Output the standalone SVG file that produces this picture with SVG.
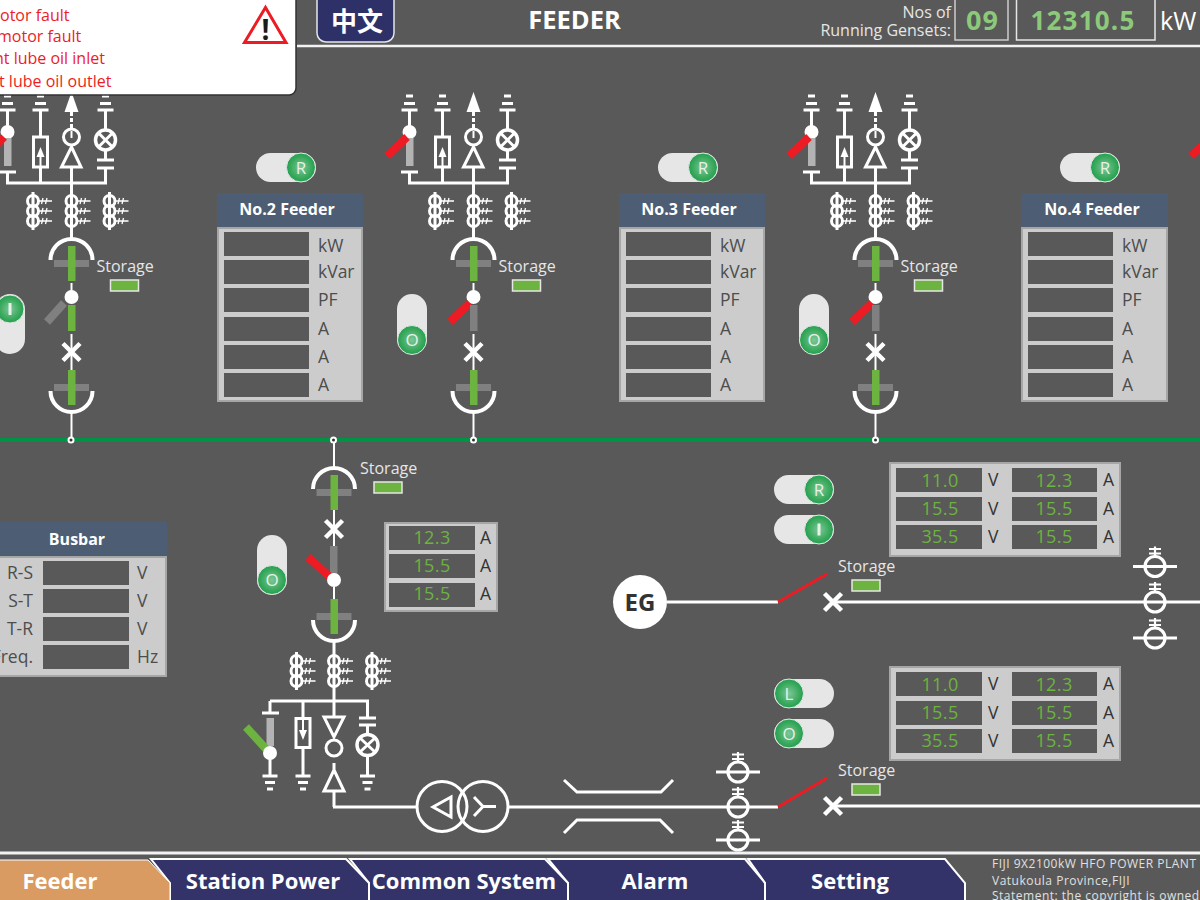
<svg xmlns="http://www.w3.org/2000/svg" width="1200" height="900" viewBox="0 0 1200 900">
<style>
text{font-family:"Open Sans","Noto Sans","Liberation Sans",sans-serif}
.w{fill:none;stroke:#fff;stroke-width:3}
.w2{fill:none;stroke:#fff;stroke-width:2}
.line{fill:none;stroke:#fff;stroke-width:3}
.thin{fill:none;stroke:#fff;stroke-width:1.300}
.tick{fill:none;stroke:#fff;stroke-width:2.200}
.x{fill:none;stroke:#fff;stroke-width:4.500}
.ball{fill:#fff}
.gr{fill:#6DB33F}
.gy{fill:#808080}
.lgy{fill:#B3B3B3}
.red{stroke:#ED1C24;stroke-width:8;fill:none}
.grl{stroke:#6DB33F;stroke-width:8;fill:none}
.gyl{stroke:#808080;stroke-width:8;fill:none}
.rl{stroke:#ED1C24;stroke-width:3;fill:none}
.st{fill:#E6E6E6;font-size:16px}
.ind{fill:#6DB33F;stroke:#E6E6E6;stroke-width:1.500}
.tgl{fill:#E6E6E6}
.knob{fill:url(#kg);stroke:#E6E6E6;stroke-width:1}
.kt{fill:#E6F2E6;font-size:17px;text-anchor:middle}
.pb{fill:#CCCCCC;stroke:#A6A6A6;stroke-width:2}
.ph{fill:#4D5D73}
.pr{fill:#595959}
.pt{fill:#fff;font-size:16px;font-weight:700;text-anchor:middle}
.u{fill:#4D4D4D;font-size:17.500px}
.u2{fill:#333;font-size:17.500px}
.v{fill:#6DB33F;font-size:18px;text-anchor:middle;letter-spacing:.4px}
.tab{fill:#33336A;stroke:#fff;stroke-width:2}
.tt{fill:#fff;font-size:22px;font-weight:700;text-anchor:middle}
.al{fill:#ED1C24;font-size:16px}
.ft{fill:#E0E0E0;font-size:12px;letter-spacing:.5px}
</style>
<defs>
<radialGradient id="kg"><stop offset="0" stop-color="#7CC79A"/><stop offset=".7" stop-color="#3CAA5E"/><stop offset="1" stop-color="#22A04F"/></radialGradient>
<g id="gnd"><path class="line" d="M-8 0H8M-5.500 -6.500H5.500M-3.500 -14H3.500"/></g>
<g id="gndb"><path class="line" d="M-7.500 0H7.500M-5 6.500H5M-3 13H3"/></g>
<g id="ct"><circle class="w" cx="0" cy="-10" r="5.500"/><circle class="w" cx="0" cy="0" r="5.500"/><circle class="w" cx="0" cy="10" r="5.500"/><path class="thin" d="M5 -10H19M5 0H19M5 10H19M10 -13L8.500 -7M14 -13L12.500 -7M10 -3L8.500 3M14 -3L12.500 3M10 7L8.500 13M14 7L12.500 13"/></g>
<g id="x"><path class="x" d="M-8.500 -8.500L8.500 8.500M-8.500 8.500L8.500 -8.500"/></g>
<g id="ar"><circle cx="0" cy="0" r="10" fill="none" stroke="#fff" stroke-width="3.200"/><path class="tick" d="M0 -20V-10M-6 -17.500H6M-6 -13H6"/></g>
<g id="arl"><use href="#ar"/><path class="line" d="M-22 0H22"/></g>
<g id="ctop"><path class="w" style="stroke-width:4" d="M-21 21A21 21 0 0 1 21 21"/><rect class="gy" x="-17.500" y="21" width="35" height="7"/><rect class="gr" x="-3.500" y="7" width="7.500" height="35"/></g>
<g id="cbot"><rect class="gy" x="-17.500" y="-7" width="35" height="7"/><rect class="gr" x="-3.500" y="-21" width="7.500" height="35"/><path class="w" style="stroke-width:4" d="M-21 0A21 21 0 0 0 21 0"/></g>
<g id="stor"><text class="st" x="25.500" y="272">Storage</text><rect class="ind" x="39.500" y="280" width="28" height="11"/></g>
<g id="upper">
<use href="#gnd" x="-63.500" y="110"/><use href="#gnd" x="-30.500" y="110"/><use href="#gnd" x="34.500" y="110"/>
<path class="line" d="M-63.500 110V130M-72 172H-55M-63.500 172V183H34.500V168M-30.500 110V137M-30.500 167V183"/>
<circle class="ball" cx="-63.500" cy="132" r="7"/>
<rect class="lgy" x="-67" y="138" width="7.500" height="28"/>
<rect class="w" x="-37.500" y="137" width="14" height="30"/>
<path class="w2" d="M-30.500 155V167"/><path fill="#fff" d="M-30.500 147L-26.500 157H-34.500Z"/>
<path fill="#fff" d="M0.500 92L7.500 112H-6.500Z"/>
<path fill="none" stroke="#fff" stroke-width="3" stroke-dasharray="4 2" d="M0.500 112V129"/>
<circle class="w" cx="0.500" cy="137" r="8"/><path class="w2" d="M0.500 131V138"/>
<path class="w" d="M0.500 147L10 167H-9.500Z"/>
<path class="line" d="M0.500 167V239"/>
<path class="line" d="M34.500 110V129"/><circle class="w" style="stroke-width:3.500" cx="34.500" cy="140" r="10"/><path class="w" d="M27.500 133L41.500 147M41.500 133L27.500 147M34.500 150V160M26 160H43M26 168H43"/>
<use href="#ct" x="-38" y="211"/><use href="#ct" x="0.500" y="211"/><use href="#ct" x="38.500" y="211"/>
<path class="line" d="M-38 192V230M38.500 192V230"/>
<use href="#ctop" x="0.500" y="239"/>
<path class="w2" d="M0.500 283V297"/><circle class="ball" cx="0.500" cy="297" r="7"/>
<path class="w2" d="M0.500 334V371"/>
<use href="#x" x="0.500" y="352"/>
<use href="#cbot" x="0.500" y="391"/>
<path class="w2" d="M0.500 412V437"/>
<use href="#stor"/>
</g>
</defs>
<rect width="1200" height="900" fill="#595959"/>
<g id="connectors">
<path stroke="#009245" stroke-width="4" fill="none" d="M0 440H1200"/>
<path class="line" d="M667 602H778M833 602H1200M333 807H417M508 807H778M833 806H1200M334 791V807"/>
<path class="rl" d="M778 602L827 574M778 807L827 778"/>
<path class="w" d="M564 780L577 792H661L673 780M564 833L577 820H660L673 833"/>
<path class="w2" d="M334 443V467"/>
</g>
<g id="header">
<path stroke="#F2F2F2" stroke-width="2.500" d="M297 46H1200"/>
<text x="574.500" y="29" fill="#fff" font-size="25.500" font-weight="700" text-anchor="middle">FEEDER</text>
<text x="951" y="18" fill="#E6E6E6" font-size="16" text-anchor="end">Nos of</text>
<text x="951" y="36" fill="#E6E6E6" font-size="16" text-anchor="end">Running Gensets:</text>
<rect x="955" y="-2" width="53" height="42" fill="#595959" stroke="#CCC" stroke-width="1.500"/>
<text x="982.500" y="30" fill="#8CC97A" font-size="27" font-weight="700" text-anchor="middle" letter-spacing="1">09</text>
<rect x="1016.500" y="-2" width="138.500" height="42" fill="#595959" stroke="#E6E6E6" stroke-width="1.500"/>
<text x="1083" y="30" fill="#8CC97A" font-size="26" font-weight="700" text-anchor="middle" letter-spacing="1.200">12310.5</text>
<text x="1160" y="30" fill="#fff" font-size="25">kW</text>
</g>
<g id="cubicle-1"><use href="#upper" x="71"/><path class="red" d="M4 137L-14 156"/><path class="gyl" d="M64 303L47 322"/><rect class="gr" x="68" y="305" width="7.500" height="26"/></g>
<g id="cubicle-2"><use href="#upper" x="473"/><path class="red" d="M407 137L387 156"/><path class="red" d="M470 303L450 322"/><rect class="gy" x="470" y="305" width="7.500" height="26"/></g>
<g id="cubicle-3"><use href="#upper" x="875"/><path class="red" d="M809 137L789 156"/><path class="red" d="M872 303L852 322"/><rect class="gy" x="872" y="305" width="7.500" height="26"/></g>
<g id="cubicle-4"><path class="red" d="M1211 137L1191 156"/></g>
<g id="toggle-1"><rect class="tgl" x="-5" y="294" width="30" height="60" rx="15"/><circle class="knob" cx="10" cy="309" r="14"/><rect x="8.500" y="303" width="3" height="12" fill="#E6F2E6"/></g>
<g id="toggle-2"><rect class="tgl" x="397" y="294" width="30" height="60" rx="15"/><circle class="knob" cx="412" cy="340" r="14.500"/><text class="kt" x="412" y="346">O</text></g>
<g id="toggle-3"><rect class="tgl" x="799" y="294" width="30" height="60" rx="15"/><circle class="knob" cx="814" cy="340" r="14.500"/><text class="kt" x="814" y="346">O</text></g>
<g id="toggle-4"><rect class="tgl" x="256" y="153" width="60" height="29" rx="14.500"/><circle class="knob" cx="301" cy="167.500" r="14.500"/><text class="kt" x="301" y="173.500">R</text></g>
<g id="toggle-5"><rect class="tgl" x="658" y="153" width="60" height="29" rx="14.500"/><circle class="knob" cx="703" cy="167.500" r="14.500"/><text class="kt" x="703" y="173.500">R</text></g>
<g id="toggle-6"><rect class="tgl" x="1060" y="153" width="60" height="29" rx="14.500"/><circle class="knob" cx="1105" cy="167.500" r="14.500"/><text class="kt" x="1105" y="173.500">R</text></g>
<g id="feeder-2">
<rect class="ph" x="217" y="193" width="146" height="34"/><rect class="pb" x="218" y="228" width="144" height="173"/>
<text class="pt" x="287" y="215">No.2 Feeder</text>
<rect class="pr" x="224" y="232" width="85" height="24"/><rect class="pr" x="224" y="260" width="85" height="24"/><rect class="pr" x="224" y="288" width="85" height="24"/><rect class="pr" x="224" y="317" width="85" height="24"/><rect class="pr" x="224" y="345" width="85" height="24"/><rect class="pr" x="224" y="373" width="85" height="24"/>
<text class="u" x="318" y="252">kW</text><text class="u" x="318" y="278">kVar</text><text class="u" x="318" y="306">PF</text><text class="u" x="318" y="335">A</text><text class="u" x="318" y="363">A</text><text class="u" x="318" y="391">A</text>
</g>
<g id="feeder-3">
<rect class="ph" x="619" y="193" width="146" height="34"/><rect class="pb" x="620" y="228" width="144" height="173"/>
<text class="pt" x="689" y="215">No.3 Feeder</text>
<rect class="pr" x="626" y="232" width="85" height="24"/><rect class="pr" x="626" y="260" width="85" height="24"/><rect class="pr" x="626" y="288" width="85" height="24"/><rect class="pr" x="626" y="317" width="85" height="24"/><rect class="pr" x="626" y="345" width="85" height="24"/><rect class="pr" x="626" y="373" width="85" height="24"/>
<text class="u" x="720" y="252">kW</text><text class="u" x="720" y="278">kVar</text><text class="u" x="720" y="306">PF</text><text class="u" x="720" y="335">A</text><text class="u" x="720" y="363">A</text><text class="u" x="720" y="391">A</text>
</g>
<g id="feeder-4">
<rect class="ph" x="1021" y="193" width="147" height="34"/><rect class="pb" x="1022" y="228" width="145" height="173"/>
<text class="pt" x="1092" y="215">No.4 Feeder</text>
<rect class="pr" x="1028" y="232" width="85" height="24"/><rect class="pr" x="1028" y="260" width="85" height="24"/><rect class="pr" x="1028" y="288" width="85" height="24"/><rect class="pr" x="1028" y="317" width="85" height="24"/><rect class="pr" x="1028" y="345" width="85" height="24"/><rect class="pr" x="1028" y="373" width="85" height="24"/>
<text class="u" x="1122" y="252">kW</text><text class="u" x="1122" y="278">kVar</text><text class="u" x="1122" y="306">PF</text><text class="u" x="1122" y="335">A</text><text class="u" x="1122" y="363">A</text><text class="u" x="1122" y="391">A</text>
</g>
<g id="taps"><circle cx="71" cy="440" r="2.500" fill="#333" stroke="#fff" stroke-width="2"/><circle cx="333.500" cy="440" r="2.500" fill="#333" stroke="#fff" stroke-width="2"/><circle cx="473.500" cy="440" r="2.500" fill="#333" stroke="#fff" stroke-width="2"/><circle cx="875.500" cy="440" r="2.500" fill="#333" stroke="#fff" stroke-width="2"/></g>
<g id="busbar">
<rect class="ph" x="-5" y="522" width="172" height="33"/><rect class="pb" x="-5" y="557" width="171" height="119"/>
<text class="pt" x="77" y="545">Busbar</text>
<rect class="pr" x="43" y="561" width="86" height="24"/><rect class="pr" x="43" y="589" width="86" height="24"/><rect class="pr" x="43" y="617" width="86" height="24"/><rect class="pr" x="43" y="645" width="86" height="24"/>
<text class="u" x="33" y="579" text-anchor="end">R-S</text><text class="u" x="33" y="607" text-anchor="end">S-T</text><text class="u" x="33" y="635" text-anchor="end">T-R</text><text class="u" x="33" y="663" text-anchor="end">Freq.</text>
<text class="u" x="137" y="579">V</text><text class="u" x="137" y="607">V</text><text class="u" x="137" y="635">V</text><text class="u" x="137" y="663">Hz</text>
</g>
<g id="lower-feeder">
<use href="#ctop" x="334" y="468"/>
<path class="w2" d="M334 510V546"/><use href="#x" x="334" y="529"/>
<rect class="gy" x="330" y="546" width="7.500" height="28"/>
<path class="red" d="M331 578L308 557"/>
<circle class="ball" cx="334" cy="580" r="7"/><path class="w2" d="M334 587V599"/>
<use href="#cbot" x="334" y="620"/>
<path class="line" d="M334 642V717M270 701H367.500V718M270 701V713M303 701V718M262 713H279M270 753V776M303 747V776M367.500 756V776"/>
<use href="#ct" x="296.500" y="671"/><use href="#ct" x="334" y="671"/><use href="#ct" x="372" y="671"/>
<path class="line" d="M296.500 652V690M372 652V690"/>
<rect class="lgy" x="266.500" y="718" width="7.500" height="28"/>
<path class="grl" d="M266 749L246 727"/>
<circle class="ball" cx="270" cy="753" r="7"/>
<use href="#gndb" x="270" y="776"/><use href="#gndb" x="303" y="776"/><use href="#gndb" x="367.500" y="776"/>
<rect class="w" x="296" y="718.500" width="14" height="29"/><path class="w2" d="M303 719V732"/><path fill="#fff" d="M303 740L299 730H307Z"/>
<path class="w" d="M324 717H344L334 737Z"/><circle class="w" cx="334" cy="748" r="8"/><path class="w2" d="M334 756V757"/>
<path class="w" d="M334 763V770M334 770L344 791H324Z"/>
<path class="w" d="M359 718H376M359 725H376M367.500 725V735"/><circle class="w" style="stroke-width:3.500" cx="367.500" cy="745" r="10.500"/><path class="w" d="M360 738L375 752M375 738L360 752"/>
<text class="st" x="360" y="474">Storage</text><rect class="ind" x="374" y="482" width="28" height="11"/>
</g>
<g id="toggle-7"><rect class="tgl" x="257" y="535" width="30" height="60" rx="15"/><circle class="knob" cx="272" cy="580" r="14.500"/><text class="kt" x="272" y="586">O</text></g>
<g id="panel-small">
<rect class="pb" x="385" y="523" width="112" height="88"/>
<rect class="pr" x="389" y="526" width="86" height="24"/><rect class="pr" x="389" y="554" width="86" height="24"/><rect class="pr" x="389" y="583" width="86" height="24"/>
<text class="v" x="432" y="544">12.3</text><text class="v" x="432" y="572">15.5</text><text class="v" x="432" y="600">15.5</text>
<text class="u2" x="480" y="544">A</text><text class="u2" x="480" y="572">A</text><text class="u2" x="480" y="600">A</text>
</g>
<g id="transformer"><circle class="w" cx="442" cy="806.500" r="25"/><circle class="w" cx="483" cy="806.500" r="25"/><path class="w" d="M451 797L433 807L451 817Z"/><path class="w" d="M474 797L483 806.500L474 816M483 806.500H496"/></g>
<g id="arresters-lower"><use href="#arl" x="738" y="772"/><use href="#ar" x="738" y="807"/><use href="#arl" x="738" y="840"/></g>
<g id="arresters-upper"><use href="#arl" x="1155" y="566.500"/><use href="#ar" x="1155" y="602"/><use href="#arl" x="1155" y="638"/></g>
<g id="eg"><circle cx="640" cy="602" r="27" fill="#fff"/><text x="640" y="610.500" fill="#333" font-size="24" font-weight="700" text-anchor="middle">EG</text></g>
<g id="cb-upper"><use href="#x" x="833" y="602"/><text class="st" x="838" y="572">Storage</text><rect class="ind" x="852" y="580" width="28" height="11"/></g>
<g id="cb-lower"><use href="#x" x="833" y="806"/><text class="st" x="838" y="776">Storage</text><rect class="ind" x="852" y="784" width="28" height="11"/></g>
<g id="toggle-8"><rect class="tgl" x="774" y="475" width="60" height="29" rx="14.500"/><circle class="knob" cx="819" cy="489.500" r="14.500"/><text class="kt" x="819" y="495.500">R</text></g>
<g id="toggle-9"><rect class="tgl" x="774" y="515" width="60" height="29" rx="14.500"/><circle class="knob" cx="819" cy="529.500" r="14.500"/><rect x="817.500" y="523.500" width="3" height="12" fill="#E6F2E6"/></g>
<g id="toggle-10"><rect class="tgl" x="774" y="679" width="60" height="29" rx="14.500"/><circle class="knob" cx="789" cy="693.500" r="14.500"/><text class="kt" x="789" y="699.500">L</text></g>
<g id="toggle-11"><rect class="tgl" x="774" y="719" width="60" height="29" rx="14.500"/><circle class="knob" cx="789" cy="733.500" r="14.500"/><text class="kt" x="789" y="739.500">O</text></g>
<g id="panel-upper">
<rect class="pb" x="890" y="463" width="230" height="93"/>
<rect class="pr" x="896" y="468" width="86" height="24"/><rect class="pr" x="896" y="497" width="86" height="24"/><rect class="pr" x="896" y="525" width="86" height="24"/><rect class="pr" x="1012" y="468" width="85" height="24"/><rect class="pr" x="1012" y="497" width="85" height="24"/><rect class="pr" x="1012" y="525" width="85" height="24"/>
<text class="v" x="940" y="487">11.0</text><text class="v" x="940" y="515">15.5</text><text class="v" x="940" y="543">35.5</text><text class="v" x="1054" y="487">12.3</text><text class="v" x="1054" y="515">15.5</text><text class="v" x="1054" y="543">15.5</text>
<text class="u2" x="988" y="486">V</text><text class="u2" x="988" y="515">V</text><text class="u2" x="988" y="543">V</text><text class="u2" x="1103" y="486">A</text><text class="u2" x="1103" y="515">A</text><text class="u2" x="1103" y="543">A</text>
</g>
<g id="panel-lower">
<rect class="pb" x="890" y="667" width="230" height="93"/>
<rect class="pr" x="896" y="672" width="86" height="24"/><rect class="pr" x="896" y="701" width="86" height="24"/><rect class="pr" x="896" y="729" width="86" height="24"/><rect class="pr" x="1012" y="672" width="85" height="24"/><rect class="pr" x="1012" y="701" width="85" height="24"/><rect class="pr" x="1012" y="729" width="85" height="24"/>
<text class="v" x="940" y="691">11.0</text><text class="v" x="940" y="719">15.5</text><text class="v" x="940" y="747">35.5</text><text class="v" x="1054" y="691">12.3</text><text class="v" x="1054" y="719">15.5</text><text class="v" x="1054" y="747">15.5</text>
<text class="u2" x="988" y="690">V</text><text class="u2" x="988" y="719">V</text><text class="u2" x="988" y="747">V</text><text class="u2" x="1103" y="690">A</text><text class="u2" x="1103" y="719">A</text><text class="u2" x="1103" y="747">A</text>
</g>
<g id="alarm-box">
<rect x="-10" y="-10" width="306" height="105" rx="7" fill="#fff" stroke="#333" stroke-width="1.500"/>
<text class="al" x="0" y="21">otor fault</text><text class="al" x="-3" y="42">motor fault</text><text class="al" x="-6" y="64">nt lube oil inlet</text><text class="al" x="-1" y="87">t lube oil outlet</text>
<path d="M265.500 7.500L286 42.500H244.500Z" fill="#fff" stroke="#ED1C24" stroke-width="3"/>
<text x="265.500" y="40" fill="#1a1a1a" font-size="28" font-weight="700" text-anchor="middle">!</text>
</g>
<g id="lang-btn"><rect x="317" y="-8" width="77" height="50" rx="9" fill="#2E3168" stroke="#E6E6E6" stroke-width="1.500"/><text x="357" y="31" fill="#fff" font-size="26" font-weight="700" text-anchor="middle" style="font-family:'Noto Sans CJK SC','Noto Sans',sans-serif">中文</text></g>
<g id="footer">
<path stroke="#F2F2F2" stroke-width="3" d="M0 853H1200"/>
<path class="tab" d="M748 859H945L965 883V905H765V883L748 859Z"/>
<path class="tab" d="M548 859H745L765 883V905H568V883L548 859Z"/>
<path class="tab" d="M350 859H545L568 883V905H369V883L350 859Z"/>
<path class="tab" d="M151 859H346L369 883V905H170V883L151 859Z"/>
<path d="M-5 860H148L170 883V905H-5Z" fill="#D99B62" stroke="#fff" stroke-width="1"/>
<text class="tt" x="60" y="889">Feeder</text><text class="tt" x="263" y="889">Station Power</text><text class="tt" x="464" y="889">Common System</text><text class="tt" x="655" y="889">Alarm</text><text class="tt" x="850" y="889">Setting</text>
<text class="ft" x="992" y="868">FIJI 9X2100kW HFO POWER PLANT</text><text class="ft" x="992" y="885">Vatukoula Province,FIJI</text><text class="ft" x="992" y="900">Statement: the copyright is owned</text>
</g>
</svg>
